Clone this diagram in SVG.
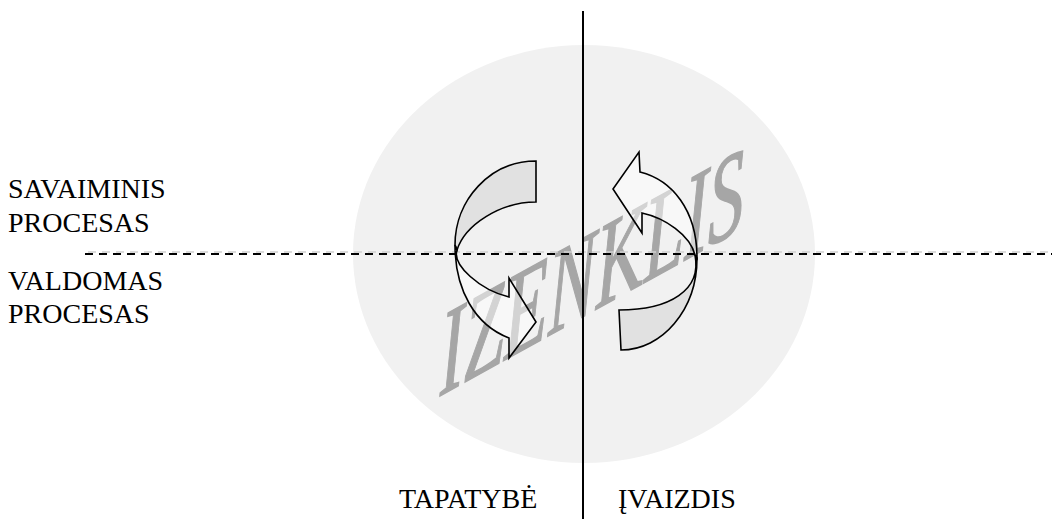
<svg xmlns="http://www.w3.org/2000/svg" width="1052" height="519" viewBox="0 0 1052 519">
  <rect width="1052" height="519" fill="#ffffff"/>
  <g id="circle">
    <ellipse cx="584" cy="254" rx="231" ry="209" fill="#f1f1f1"/>
  </g>
  <g id="watermark">
    <text font-family="Liberation Serif" font-style="italic" font-size="120" fill="#a6a6a6" stroke="#a6a6a6" stroke-width="1.5" transform="translate(440,396) skewY(-29) scale(0.6,1)" x="0" y="0">IZENKLIS</text>
  </g>
  <g id="connectors">
    <line x1="88" y1="252" x2="1052" y2="252" stroke="#d0d0d0" stroke-width="1.5" stroke-dasharray="8 6"/>
    <line x1="85" y1="254" x2="1052" y2="254" stroke="#000" stroke-width="2" stroke-dasharray="8 6"/>
    <line x1="583" y1="11" x2="583" y2="519" stroke="#000" stroke-width="2"/>
  </g>
  <g id="arrow-left" stroke="#000" stroke-width="1.6">
    <path fill="#e0e0e0" fill-opacity="0.92" d="M536,161 C490,161 455,200 455,245 L457,250 C465,225 500,202 536,202 Z"/>
    <path fill="#ffffff" fill-opacity="0.5" d="M455,245 C455,290 475,325 509,338 L509,358 L536,322 L509,278 L509,297 C480,290 452,265 457,250 Z"/>
  </g>
  <g id="arrow-right" stroke="#000" stroke-width="1.6">
    <path fill="#e0e0e0" fill-opacity="0.92" d="M697,258 C697,310 662,350 621,350 L619,310 C670,310 702,290 695,255 Z"/>
    <path fill="#ffffff" fill-opacity="0.5" d="M695,255 C690,235 665,218 642,213 L642,233 L613,189 L639,152 L640,172 C672,180 697,210 697,258 Z"/>
  </g>
  <g id="label-savaiminis" font-family="Liberation Serif" font-size="28">
    <text x="8" y="198" font-family="Liberation Serif" font-size="28">SAVAIMINIS</text>
    <text x="8" y="232" font-family="Liberation Serif" font-size="28">PROCESAS</text>
  </g>
  <g id="label-valdomas" font-family="Liberation Serif" font-size="28">
    <text x="8" y="290" font-family="Liberation Serif" font-size="28">VALDOMAS</text>
    <text x="8" y="323" font-family="Liberation Serif" font-size="28">PROCESAS</text>
  </g>
  <g id="label-tapatybe" font-family="Liberation Serif" font-size="28">
    <text x="399" y="508" font-family="Liberation Serif" font-size="28">TAPATYBĖ</text>
  </g>
  <g id="label-ivaizdis" font-family="Liberation Serif" font-size="28">
    <text x="618" y="508" font-family="Liberation Serif" font-size="28">ĮVAIZDIS</text>
  </g>
</svg>
